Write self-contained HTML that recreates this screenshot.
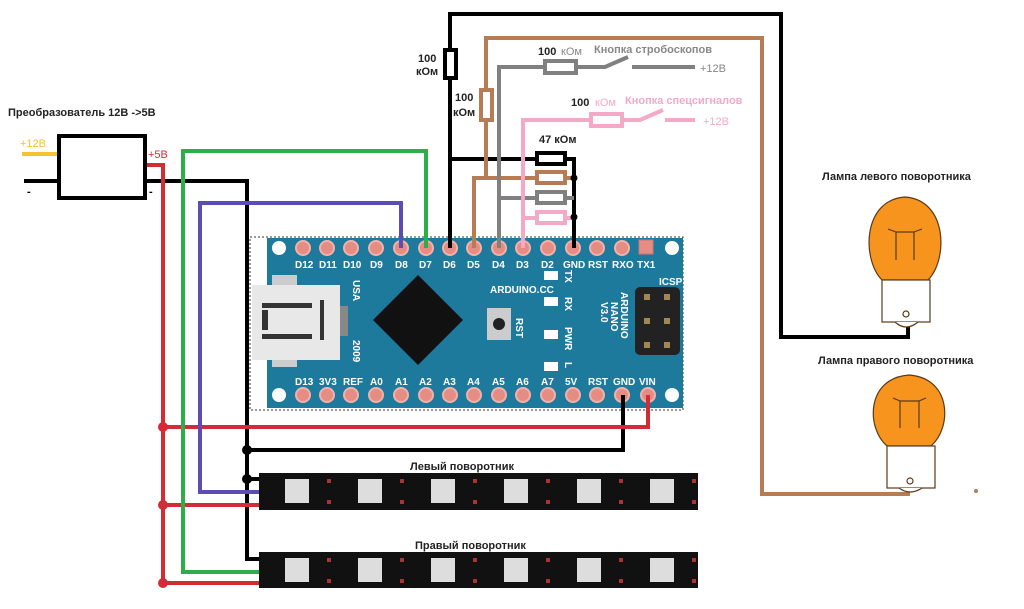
<!DOCTYPE html>
<html><head><meta charset="utf-8"><style>html,body{margin:0;padding:0;background:#fff}svg{display:block}text{font-family:"Liberation Sans",sans-serif}</style></head>
<body>
<svg width="1024" height="609" viewBox="0 0 1024 609" xmlns="http://www.w3.org/2000/svg">
<rect width="1024" height="609" fill="#fff"/>
<rect x="250" y="237" width="433" height="173" fill="none" stroke="#333" stroke-dasharray="2,2" stroke-width="1"/>
<rect x="267" y="238" width="416" height="170" fill="#1d7a9c"/>
<g fill="#e58c83" stroke="#f2b1aa" stroke-width="2">
<circle cx="303" cy="248" r="7"/><circle cx="327" cy="248" r="7"/><circle cx="351" cy="248" r="7"/><circle cx="376" cy="248" r="7"/><circle cx="401" cy="248" r="7"/><circle cx="426" cy="248" r="7"/><circle cx="450" cy="248" r="7"/><circle cx="474" cy="248" r="7"/><circle cx="499" cy="248" r="7"/><circle cx="523" cy="248" r="7"/><circle cx="548" cy="248" r="7"/><circle cx="573" cy="248" r="7"/><circle cx="597" cy="248" r="7"/><circle cx="622" cy="248" r="7"/>
<circle cx="303" cy="395" r="7"/><circle cx="327" cy="395" r="7"/><circle cx="351" cy="395" r="7"/><circle cx="376" cy="395" r="7"/><circle cx="401" cy="395" r="7"/><circle cx="426" cy="395" r="7"/><circle cx="450" cy="395" r="7"/><circle cx="474" cy="395" r="7"/><circle cx="499" cy="395" r="7"/><circle cx="523" cy="395" r="7"/><circle cx="548" cy="395" r="7"/><circle cx="573" cy="395" r="7"/><circle cx="597" cy="395" r="7"/><circle cx="622" cy="395" r="7"/><circle cx="648" cy="395" r="7"/>
</g>
<rect x="639" y="240" width="14" height="14" fill="#e58c83" stroke="#c77"/>
<g fill="#fff"><circle cx="279" cy="248" r="7"/><circle cx="672" cy="248" r="7"/><circle cx="279" cy="395" r="7"/><circle cx="672" cy="395" r="7"/></g>
<g fill="#fff" font-size="10" font-family="Liberation Mono,monospace" font-weight="bold">
<text x="295" y="268">D12</text><text x="319" y="268">D11</text><text x="343" y="268">D10</text><text x="370" y="268">D9</text><text x="395" y="268">D8</text><text x="419" y="268">D7</text><text x="443" y="268">D6</text><text x="467" y="268">D5</text><text x="492" y="268">D4</text><text x="516" y="268">D3</text><text x="541" y="268">D2</text><text x="563" y="268">GND</text><text x="588" y="268">RST</text><text x="612" y="268">RXO</text><text x="637" y="268">TX1</text>
<text x="295" y="385">D13</text><text x="319" y="385">3V3</text><text x="343" y="385">REF</text><text x="370" y="385">A0</text><text x="395" y="385">A1</text><text x="419" y="385">A2</text><text x="443" y="385">A3</text><text x="467" y="385">A4</text><text x="492" y="385">A5</text><text x="516" y="385">A6</text><text x="541" y="385">A7</text><text x="565" y="385">5V</text><text x="588" y="385">RST</text><text x="613" y="385">GND</text><text x="639" y="385">VIN</text>
<text x="490" y="293">ARDUINO.CC</text><text x="659" y="285">ICSP</text>
</g>
<rect x="272" y="275" width="25" height="12" fill="#ccc"/><rect x="272" y="355" width="25" height="12" fill="#ccc"/>
<rect x="252" y="285" width="88" height="75" fill="#e8e8e8"/>
<rect x="262" y="303" width="50" height="5" fill="#333"/><rect x="262" y="334" width="50" height="5" fill="#333"/><rect x="320" y="300" width="4" height="40" fill="#333"/><rect x="262" y="310" width="6" height="20" fill="#333"/>
<rect x="340" y="306" width="8" height="30" fill="#888"/>
<polygon points="418,275 463,320 418,365 373,320" fill="#111"/>
<rect x="487" y="308" width="24" height="32" fill="#ccc"/><circle cx="499" cy="324" r="6" fill="#222"/>
<g fill="#fff"><rect x="544" y="271" width="14" height="9"/><rect x="544" y="297" width="14" height="9"/><rect x="544" y="330" width="14" height="9"/><rect x="544" y="362" width="14" height="9"/></g>
<rect x="635" y="287" width="45" height="68" rx="5" fill="#222"/>
<g fill="#a08850"><rect x="644" y="294" width="6" height="6"/><rect x="664" y="294" width="6" height="6"/><rect x="644" y="318" width="6" height="6"/><rect x="664" y="318" width="6" height="6"/><rect x="644" y="342" width="6" height="6"/><rect x="664" y="342" width="6" height="6"/></g>
<g fill="#fff" font-size="10" font-family="Liberation Mono,monospace" font-weight="bold">
<text transform="translate(353,280) rotate(90)">USA</text><text transform="translate(353,340) rotate(90)">2009</text>
<text transform="translate(516,318) rotate(90)">RST</text><text transform="translate(565,270) rotate(90)">TX</text><text transform="translate(565,297) rotate(90)">RX</text><text transform="translate(565,327) rotate(90)">PWR</text><text transform="translate(565,362) rotate(90)">L</text>
<text transform="translate(621,292) rotate(90)">ARDUINO</text><text transform="translate(611,302) rotate(90)">NANO</text><text transform="translate(601,302) rotate(90)">V3.0</text>
</g>
<g fill="none" stroke-width="4">
<polyline points="450,248 450,14 781,14 781,337 908,337 908,325" stroke="#000"/>
<polyline points="450,159 574,159 574,248" stroke="#000"/>
<polyline points="474,248 474,178 574,178" stroke="#b87c55"/>
<polyline points="908,490 908,494 762,494 762,38 486,38 486,178" stroke="#b87c55"/>
<polyline points="499,248 499,67 605,67 628,57" stroke="#808080"/>
<line x1="632" y1="67" x2="695" y2="67" stroke="#808080"/>
<line x1="499" y1="198" x2="574" y2="198" stroke="#808080"/>
<polyline points="523,248 523,120 640,120 663,110" stroke="#f4a9c6"/>
<line x1="665" y1="120" x2="695" y2="120" stroke="#f4a9c6"/>
<line x1="523" y1="218" x2="574" y2="218" stroke="#f4a9c6"/>
<line x1="22" y1="154" x2="59" y2="154" stroke="#f3c330"/>
<line x1="24" y1="181" x2="59" y2="181" stroke="#000"/>
<polyline points="145,181 247,181 247,559 262,559" stroke="#000"/>
<polyline points="247,450 623,450 623,395" stroke="#000"/>
<line x1="247" y1="479" x2="262" y2="479" stroke="#000"/>
<polyline points="145,165 163,165 163,583 262,583" stroke="#d22d36"/>
<polyline points="163,427 648,427 648,395" stroke="#d22d36"/>
<line x1="163" y1="505" x2="262" y2="505" stroke="#d22d36"/>
<polyline points="426,248 426,151 183,151 183,572 262,572" stroke="#2eae4a"/>
<polyline points="401,248 401,203 200,203 200,492 262,492" stroke="#5b4db3"/>
</g>
<g fill="#000"><circle cx="574" cy="178" r="3.5"/><circle cx="574" cy="217" r="3.5"/><circle cx="247" cy="450" r="5"/><circle cx="247" cy="479" r="5"/></g>
<g fill="#d22d36"><circle cx="163" cy="427" r="5"/><circle cx="163" cy="505" r="5"/><circle cx="163" cy="583" r="5"/></g>
<g fill="#fff" stroke-width="4">
<rect x="445" y="50" width="11" height="28" stroke="#000"/>
<rect x="481" y="90" width="11" height="30" stroke="#b87c55"/>
<rect x="545" y="61" width="31" height="12" stroke="#808080"/>
<rect x="591" y="114" width="31" height="12" stroke="#f4a9c6"/>
<rect x="537" y="153" width="28" height="11" stroke="#000"/>
<rect x="537" y="172" width="28" height="11" stroke="#b87c55"/>
<rect x="537" y="192" width="28" height="11" stroke="#808080"/>
<rect x="537" y="212" width="28" height="11" stroke="#f4a9c6"/>
<rect x="59" y="136" width="86" height="62" stroke="#000"/>
</g>
<g font-size="11" font-weight="bold" fill="#222">
<text x="8" y="116">Преобразователь 12В -&gt;5В</text>
<text x="418" y="62">100</text><text x="416" y="75">кОм</text>
<text x="455" y="101">100</text><text x="453" y="116">кОм</text>
<text x="538" y="55">100</text><text x="539" y="143">47 кОм</text>
<text x="571" y="106">100</text>
<text x="410" y="470">Левый поворотник</text>
<text x="415" y="549">Правый поворотник</text>
<text x="822" y="180">Лампа левого поворотника</text>
<text x="818" y="364">Лампа правого поворотника</text>
</g>
<g font-size="11">
<text x="561" y="55" fill="#888">кОм</text><text x="594" y="53" fill="#888" font-weight="bold">Кнопка стробоскопов</text><text x="700" y="72" fill="#888">+12В</text>
<text x="595" y="106" fill="#f4a9c6">кОм</text><text x="625" y="104" fill="#f4a9c6" font-weight="bold">Кнопка спецсигналов</text><text x="703" y="125" fill="#f4a9c6">+12В</text>
<text x="20" y="147" fill="#f3c330">+12В</text><text x="148" y="158" fill="#d22d36">+5В</text>
<text x="27" y="195" font-weight="bold">-</text><text x="149" y="195" font-weight="bold">-</text>
</g>
<g>
<rect x="259" y="473" width="439" height="37" fill="#111"/>
<rect x="259" y="552" width="439" height="36" fill="#111"/>
<g fill="#ddd">
<rect x="285" y="479" width="24" height="24"/><rect x="358" y="479" width="24" height="24"/><rect x="431" y="479" width="24" height="24"/><rect x="504" y="479" width="24" height="24"/><rect x="577" y="479" width="24" height="24"/><rect x="650" y="479" width="24" height="24"/>
<rect x="285" y="558" width="24" height="24"/><rect x="358" y="558" width="24" height="24"/><rect x="431" y="558" width="24" height="24"/><rect x="504" y="558" width="24" height="24"/><rect x="577" y="558" width="24" height="24"/><rect x="650" y="558" width="24" height="24"/>
</g>
<g fill="#a33">
<rect x="327" y="479" width="4" height="4"/><rect x="400" y="479" width="4" height="4"/><rect x="473" y="479" width="4" height="4"/><rect x="546" y="479" width="4" height="4"/><rect x="619" y="479" width="4" height="4"/><rect x="692" y="479" width="4" height="4"/>
<rect x="327" y="500" width="4" height="4"/><rect x="400" y="500" width="4" height="4"/><rect x="473" y="500" width="4" height="4"/><rect x="546" y="500" width="4" height="4"/><rect x="619" y="500" width="4" height="4"/><rect x="692" y="500" width="4" height="4"/>
<rect x="327" y="558" width="4" height="4"/><rect x="400" y="558" width="4" height="4"/><rect x="473" y="558" width="4" height="4"/><rect x="546" y="558" width="4" height="4"/><rect x="619" y="558" width="4" height="4"/><rect x="692" y="558" width="4" height="4"/>
<rect x="327" y="579" width="4" height="4"/><rect x="400" y="579" width="4" height="4"/><rect x="473" y="579" width="4" height="4"/><rect x="546" y="579" width="4" height="4"/><rect x="619" y="579" width="4" height="4"/><rect x="692" y="579" width="4" height="4"/>
</g>
</g>
<g stroke="#5a3a1a" stroke-width="1.2">
<path d="M882,280 C862,260 862,200 905,197 C948,200 948,260 928,280 Z" fill="#f7941d"/>
<rect x="882" y="280" width="48" height="42" fill="#fff"/>
<path d="M895,322 Q906,332 918,322" fill="#fff"/>
<circle cx="906" cy="314" r="3" fill="#fff"/>
<path d="M888,229 L896,232 L896,260 M922,229 L914,232 L914,260 M896,232 L914,232" fill="none"/>
<path d="M887,446 C866,428 866,378 909,375 C952,378 952,428 931,446 Z" fill="#f7941d"/>
<rect x="887" y="446" width="48" height="42" fill="#fff"/>
<path d="M899,488 Q910,496 922,488" fill="#fff"/>
<circle cx="910" cy="481" r="3" fill="#fff"/>
<path d="M893,398 L900,401 L900,428 M926,398 L919,401 L919,428 M900,401 L919,401" fill="none"/>
</g>
<circle cx="976" cy="491" r="2" fill="#b87c55"/>
</svg>
</body></html>
